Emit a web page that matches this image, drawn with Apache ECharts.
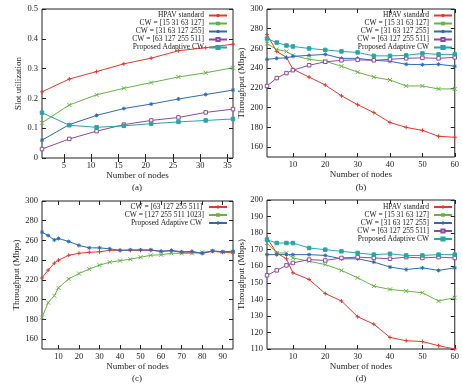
<!DOCTYPE html>
<html>
<head>
<meta charset="utf-8">
<script src="https://cdn.jsdelivr.net/npm/echarts@6/dist/echarts.min.js"></script>
<style>
  html, body { margin: 0; padding: 0; background: #fff; }
  #main { width: 462px; height: 385px; }
</style>
</head>
<body>
<div id="main"></div>
<script>
// (a) slot utilization
const nodesA = [1, 6, 11, 16, 21, 26, 31, 36];
const hpavA = [0.222, 0.265, 0.290, 0.316, 0.335, 0.360, 0.370, 0.382];
const cw15A = [0.118, 0.178, 0.212, 0.234, 0.253, 0.272, 0.286, 0.303];
const cw31A = [0.060, 0.112, 0.143, 0.166, 0.181, 0.198, 0.213, 0.228];
const cw63A = [0.030, 0.064, 0.090, 0.112, 0.126, 0.136, 0.153, 0.164];
const adaptA = [0.152, 0.110, 0.103, 0.108, 0.115, 0.121, 0.126, 0.131];

// (b) throughput
const nodesB = [2, 5, 8, 10, 15, 20, 25, 30, 35, 40, 45, 50, 55, 60];
const hpavB = [274, 257, 251, 239, 231, 223, 212, 203, 195, 185, 180, 177, 171, 170];
const cw15B = [265, 259, 257, 253, 249, 247, 242, 236, 231, 228, 222, 222, 219, 219];
const cw31B = [249, 250, 250.5, 252, 253, 254, 250, 250, 248, 247, 244, 243.5, 244, 242];
const cw63B = [222, 230, 235, 238, 243, 246.5, 248, 248.5, 248, 249, 250, 250.5, 250, 251];
const adaptB = [270, 266, 263, 262, 260, 258.5, 257, 256, 252.5, 252.5, 253, 255, 254, 254];

// (c) throughput, large windows
const nodesC = [2, 5, 8, 10, 15, 20, 25, 30, 35, 40, 45, 50, 55, 60, 65, 70, 75, 80, 85, 90, 95];
const cw63C = [222, 230, 237, 240, 245, 247, 248, 248.5, 250, 250, 250, 250, 250, 249, 249.5, 248, 248, 247, 249, 248, 247.5];
const cw127C = [182, 197, 204, 212, 221, 226.5, 231, 235, 238, 239.5, 241, 243, 245, 245.5, 247, 247, 247, 248, 249, 248.5, 248.5];
const adaptC = [268.5, 265, 260.5, 262, 259, 255, 252.5, 252.5, 251.5, 250, 250.5, 250.5, 250.5, 249, 250, 248.5, 249, 247, 249.5, 248.5, 249];

// (d) throughput
const nodesD = [2, 5, 8, 10, 15, 20, 25, 30, 35, 40, 45, 50, 55, 60];
const hpavD = [177, 168, 164.5, 156, 152, 143.5, 139, 129.5, 125, 117, 115, 114.5, 112, 110];
const cw15D = [174, 168, 168, 165, 163, 161, 157.5, 153, 148, 146, 145, 144, 139, 141];
const cw31D = [167, 167, 167, 167, 167, 166.5, 164.5, 164.5, 162.5, 159.5, 158, 159, 157.5, 159];
const cw63D = [154.5, 157.5, 160.5, 162, 164, 163.5, 165, 165.5, 165, 164.5, 165.5, 165, 165.5, 165];
const adaptD = [176, 174, 174, 174, 171, 170, 169, 168, 167, 167.5, 166.5, 166.5, 167, 167];

// tick labels
const xTicksA = [5, 10, 15, 20, 25, 30, 35];
const yTicksA = [0, 0.1, 0.2, 0.3, 0.4, 0.5];
const xTicksB = [10, 20, 30, 40, 50, 60];
const yTicksB = [160, 180, 200, 220, 240, 260, 280, 300];
const xTicksC = [10, 20, 30, 40, 50, 60, 70, 80, 90];
const yTicksC = [160, 180, 200, 220, 240, 260, 280, 300];
const xTicksD = [10, 20, 30, 40, 50, 60];
const yTicksD = [110, 120, 130, 140, 150, 160, 170, 180, 190, 200];

const RED = '#e0392e', GREEN = '#68b246', BLUE = '#2d6ab3', PURPLE = '#8c4b9d', CYAN = '#27a6a6';
const FONT = 'Liberation Serif';

const PLUS = 'path://M0,5L10,5M5,0L5,10';
const CROSS = 'path://M1,1L9,9M1,9L9,1';
const STAR = 'path://M0,5L10,5M5,0L5,10M1.5,1.5L8.5,8.5M1.5,8.5L8.5,1.5';

const grids = [
  { left: 42, right: 229, top: 9, bottom: 227 },
  { left: 267, right: 7, top: 9, bottom: 228 },
  { left: 42, right: 229, top: 201, bottom: 36 },
  { left: 267, right: 7, top: 200, bottom: 36 }
];
grids.forEach(g => { g.show = true; g.borderColor = '#222'; g.borderWidth = 1; });

const axisSpec = [
  { xmin: 1, xmax: 36, xt: xTicksA, ymin: 0, ymax: 0.5, yt: yTicksA, yname: 'Slot utilization', gap: 16 },
  { xmin: 2, xmax: 60, xt: xTicksB, ymin: 150, ymax: 300, yt: yTicksB, yname: 'Throughput (Mbps)', gap: 17.5 },
  { xmin: 2, xmax: 95, xt: xTicksC, ymin: 150, ymax: 300, yt: yTicksC, yname: 'Throughput (Mbps)', gap: 17 },
  { xmin: 2, xmax: 60, xt: xTicksD, ymin: 110, ymax: 200, yt: yTicksD, yname: 'Throughput (Mbps)', gap: 17.5 }
];

const xAxis = [], yAxis = [];
axisSpec.forEach((s, i) => {
  const tick = (vals) => ({ show: true, inside: true, length: 4, customValues: vals, lineStyle: { color: '#222' } });
  xAxis.push({
    type: 'value', gridIndex: i, min: s.xmin, max: s.xmax,
    axisLine: { show: false }, splitLine: { show: false },
    axisTick: tick(s.xt),
    axisLabel: { customValues: s.xt, fontFamily: FONT, fontSize: 8.5, color: '#222', margin: 3 },
    name: 'Number of nodes', nameLocation: 'middle', nameGap: 13,
    nameTextStyle: { fontFamily: FONT, fontSize: 9, color: '#222' }
  });
  xAxis.push({
    type: 'value', gridIndex: i, min: s.xmin, max: s.xmax, position: 'top',
    axisLine: { show: false }, splitLine: { show: false },
    axisTick: tick(s.xt), axisLabel: { show: false }
  });
  yAxis.push({
    type: 'value', gridIndex: i, min: s.ymin, max: s.ymax,
    axisLine: { show: false }, splitLine: { show: false },
    axisTick: tick(s.yt),
    axisLabel: { customValues: s.yt, fontFamily: FONT, fontSize: 8.5, color: '#222', margin: 4 },
    name: s.yname, nameLocation: 'middle', nameGap: s.gap,
    nameTextStyle: { fontFamily: FONT, fontSize: 9, color: '#222' }
  });
  yAxis.push({
    type: 'value', gridIndex: i, min: s.ymin, max: s.ymax, position: 'right',
    axisLine: { show: false }, splitLine: { show: false },
    axisTick: tick(s.yt), axisLabel: { show: false }
  });
});

function line(name, xs, ys, color, symbol, g, hollow) {
  return {
    type: 'line', name: name,
    xAxisIndex: g * 2, yAxisIndex: g * 2,
    data: xs.map((x, i) => [x, ys[i]]),
    symbol: symbol, symbolSize: symbol === 'rect' ? 3.5 : 4,
    showAllSymbol: true,
    lineStyle: { color: color, width: 1 },
    itemStyle: { color: hollow ? '#fff' : color, borderColor: color, borderWidth: 1 },
    emphasis: { disabled: true },
    animation: false
  };
}

const series = [
  line('HPAV standard', nodesA, hpavA, RED, PLUS, 0),
  line('CW = [15 31 63 127]', nodesA, cw15A, GREEN, CROSS, 0),
  line('CW = [31 63 127 255]', nodesA, cw31A, BLUE, STAR, 0),
  line('CW = [63 127 255 511]', nodesA, cw63A, PURPLE, 'rect', 0, true),
  line('Proposed Adaptive CW', nodesA, adaptA, CYAN, 'rect', 0),

  line('HPAV standard', nodesB, hpavB, RED, PLUS, 1),
  line('CW = [15 31 63 127]', nodesB, cw15B, GREEN, CROSS, 1),
  line('CW = [31 63 127 255]', nodesB, cw31B, BLUE, STAR, 1),
  line('CW = [63 127 255 511]', nodesB, cw63B, PURPLE, 'rect', 1, true),
  line('Proposed Adaptive CW', nodesB, adaptB, CYAN, 'rect', 1),

  line('CW = [63 127 255 511] ', nodesC, cw63C, RED, PLUS, 2),
  line('CW = [127 255 511 1023]', nodesC, cw127C, GREEN, CROSS, 2),
  line('Proposed Adaptive CW ', nodesC, adaptC, BLUE, STAR, 2),

  line('HPAV standard', nodesD, hpavD, RED, PLUS, 3),
  line('CW = [15 31 63 127]', nodesD, cw15D, GREEN, CROSS, 3),
  line('CW = [31 63 127 255]', nodesD, cw31D, BLUE, STAR, 3),
  line('CW = [63 127 255 511]', nodesD, cw63D, PURPLE, 'rect', 3, true),
  line('Proposed Adaptive CW', nodesD, adaptD, CYAN, 'rect', 3)
];

const namesFive = ['HPAV standard', 'CW = [15 31 63 127]', 'CW = [31 63 127 255]', 'CW = [63 127 255 511]', 'Proposed Adaptive CW'];
const namesThree = ['CW = [63 127 255 511] ', 'CW = [127 255 511 1023]', 'Proposed Adaptive CW '];

function legend(names, right, top) {
  return {
    data: names, orient: 'vertical', align: 'right', right: right, top: top,
    itemWidth: 18, itemHeight: 4, itemGap: 0, padding: 0,
    selectedMode: false,
    textStyle: { fontFamily: FONT, fontSize: 7.5, color: '#222' }
  };
}

const chart = echarts.init(document.getElementById('main'), null, { renderer: 'canvas' });
chart.setOption({
  backgroundColor: '#fff',
  animation: false,
  grid: grids,
  xAxis: xAxis,
  yAxis: yAxis,
  legend: [
    legend(namesFive, 234, 11.5),
    legend(namesFive, 9, 11.5),
    legend(namesThree, 234, 203),
    legend(namesFive, 9, 203)
  ],
  graphic: [
    { type: 'text', x: 137, y: 188, style: { text: '(a)', font: '9px ' + FONT, fill: '#222', align: 'center', verticalAlign: 'middle' } },
    { type: 'text', x: 361, y: 188, style: { text: '(b)', font: '9px ' + FONT, fill: '#222', align: 'center', verticalAlign: 'middle' } },
    { type: 'text', x: 137, y: 379, style: { text: '(c)', font: '9px ' + FONT, fill: '#222', align: 'center', verticalAlign: 'middle' } },
    { type: 'text', x: 361, y: 379, style: { text: '(d)', font: '9px ' + FONT, fill: '#222', align: 'center', verticalAlign: 'middle' } }
  ],
  series: series
});
</script>
</body>
</html>
